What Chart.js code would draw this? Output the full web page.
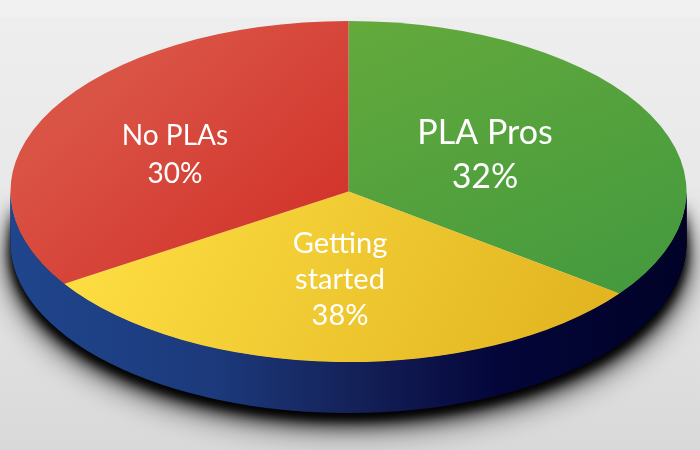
<!DOCTYPE html>
<html>
<head>
<meta charset="utf-8">
<style>
  html, body { margin: 0; padding: 0; background: #e6e6e6; }
  canvas { display: block; }
</style>
<script src="https://cdn.jsdelivr.net/npm/chart.js@4/dist/chart.umd.min.js"></script>
</head>
<body>
<canvas id="pie" width="700" height="450"></canvas>
<script>
let categories = ["PLA Pros", "Getting started", "No PLAs"];
// printed percentages
let percents = [32, 38, 30];
// the drawn wedges do not follow the printed numbers, these are the shares
let sliceShares = [35.2, 30.7, 34.1];

let labelLines = [
  ["PLA Pros", percents[0] + "%"],
  ["Getting", "started", percents[1] + "%"],
  ["No PLAs", percents[2] + "%"],
];

// where the flat pie ends up on the page
let pieX = 348.5;
let pieY = 191.5;
let pieRadius = 338;
let squash = 170.5 / 338;
let depth = 51;

let faceColors = [
  ["#68ac3c", "#459a3e", -0.6, -0.8, 0.7, 0.7],
  ["#ffe044", "#e2b521", -0.8, 0, 0.8, 0.4],
  ["#da5446", "#d2332a", -0.9, -0.3, -0.05, 0.2],
];

let labelStyle = [
  { x: 485, y: [144, 188], size: 34 },
  { x: 340, y: [253, 289, 325], size: 29 },
  { x: 175, y: [145, 183], size: 28 },
];

// blur, offset, alpha of each shadow pass under the side wall
let shadowPasses = [
  [34, 12, 0.8],
  [18, 8, 1],
  [10, 5, 1],
];

let backdrop = {
  id: "backdrop",
  beforeDraw(chart) {
    let ctx = chart.ctx;
    let g = ctx.createLinearGradient(0, 17, 0, 450);
    g.addColorStop(0, "#eeeeee");
    g.addColorStop(0.45, "#e8e8e9");
    g.addColorStop(1, "#d9d9da");
    ctx.fillStyle = "#f1f1f1";
    ctx.fillRect(0, 0, 700, 17);
    ctx.fillStyle = g;
    ctx.fillRect(0, 17, 700, 433);
  },
};

function sidePath(ctx, rx, ry) {
  ctx.beginPath();
  ctx.ellipse(pieX, pieY + depth, rx, ry, 0, 0, Math.PI);
  ctx.lineTo(pieX - rx, pieY);
  ctx.ellipse(pieX, pieY, rx, ry, 0, Math.PI, 0, true);
  ctx.closePath();
}

let flatten = {
  id: "flatten",
  beforeDatasetsDraw(chart) {
    let ctx = chart.ctx;
    let arc = chart.getDatasetMeta(0).data[0];

    // side wall with its shadow, sized from the pie itself
    let rx = arc.outerRadius;
    let ry = arc.outerRadius * squash;
    let side = ctx.createLinearGradient(pieX - rx, 0, pieX + rx, 0);
    side.addColorStop(0, "#20458c");
    side.addColorStop(0.3, "#1c3a7c");
    side.addColorStop(0.5, "#15225a");
    side.addColorStop(0.72, "#04063a");
    side.addColorStop(1, "#010226");
    ctx.save();
    ctx.fillStyle = side;
    shadowPasses.forEach((p) => {
      ctx.shadowBlur = p[0];
      ctx.shadowOffsetY = p[1];
      ctx.shadowColor = "rgba(0,0,0," + p[2] + ")";
      sidePath(ctx, rx, ry);
      ctx.fill();
    });
    ctx.restore();

    ctx.save();
    ctx.translate(pieX, pieY);
    ctx.scale(1, squash);
    ctx.translate(-arc.x, -arc.y);
  },
  afterDatasetsDraw(chart) {
    chart.ctx.restore();
  },
};

let sliceLabels = {
  id: "sliceLabels",
  afterDraw(chart) {
    let ctx = chart.ctx;
    ctx.save();
    ctx.fillStyle = "#ffffff";
    ctx.textAlign = "center";
    ctx.textBaseline = "alphabetic";
    labelLines.forEach((lines, i) => {
      let st = labelStyle[i];
      ctx.font = st.size + "px Lato";
      lines.forEach((t, j) => ctx.fillText(t, st.x, st.y[j]));
    });
    ctx.restore();
  },
};

function faceFill(c) {
  let chart = c.chart;
  let cx = chart.width / 2;
  let cy = chart.height / 2;
  let f = faceColors[c.dataIndex];
  let g = chart.ctx.createLinearGradient(
    cx + f[2] * pieRadius, cy + f[3] * pieRadius,
    cx + f[4] * pieRadius, cy + f[5] * pieRadius
  );
  g.addColorStop(0, f[0]);
  g.addColorStop(1, f[1]);
  return g;
}

new Chart(document.querySelector("#pie"), {
  type: "pie",
  data: {
    labels: categories,
    datasets: [
      {
        data: sliceShares,
        backgroundColor: faceFill,
        borderWidth: 0,
        clip: false,
      },
    ],
  },
  options: {
    responsive: false,
    animation: false,
    radius: pieRadius,
    events: [],
    layout: { padding: 0 },
    plugins: {
      legend: { display: false },
      tooltip: { enabled: false },
      title: { display: false },
    },
  },
  plugins: [backdrop, flatten, sliceLabels],
});
</script>
</body>
</html>
